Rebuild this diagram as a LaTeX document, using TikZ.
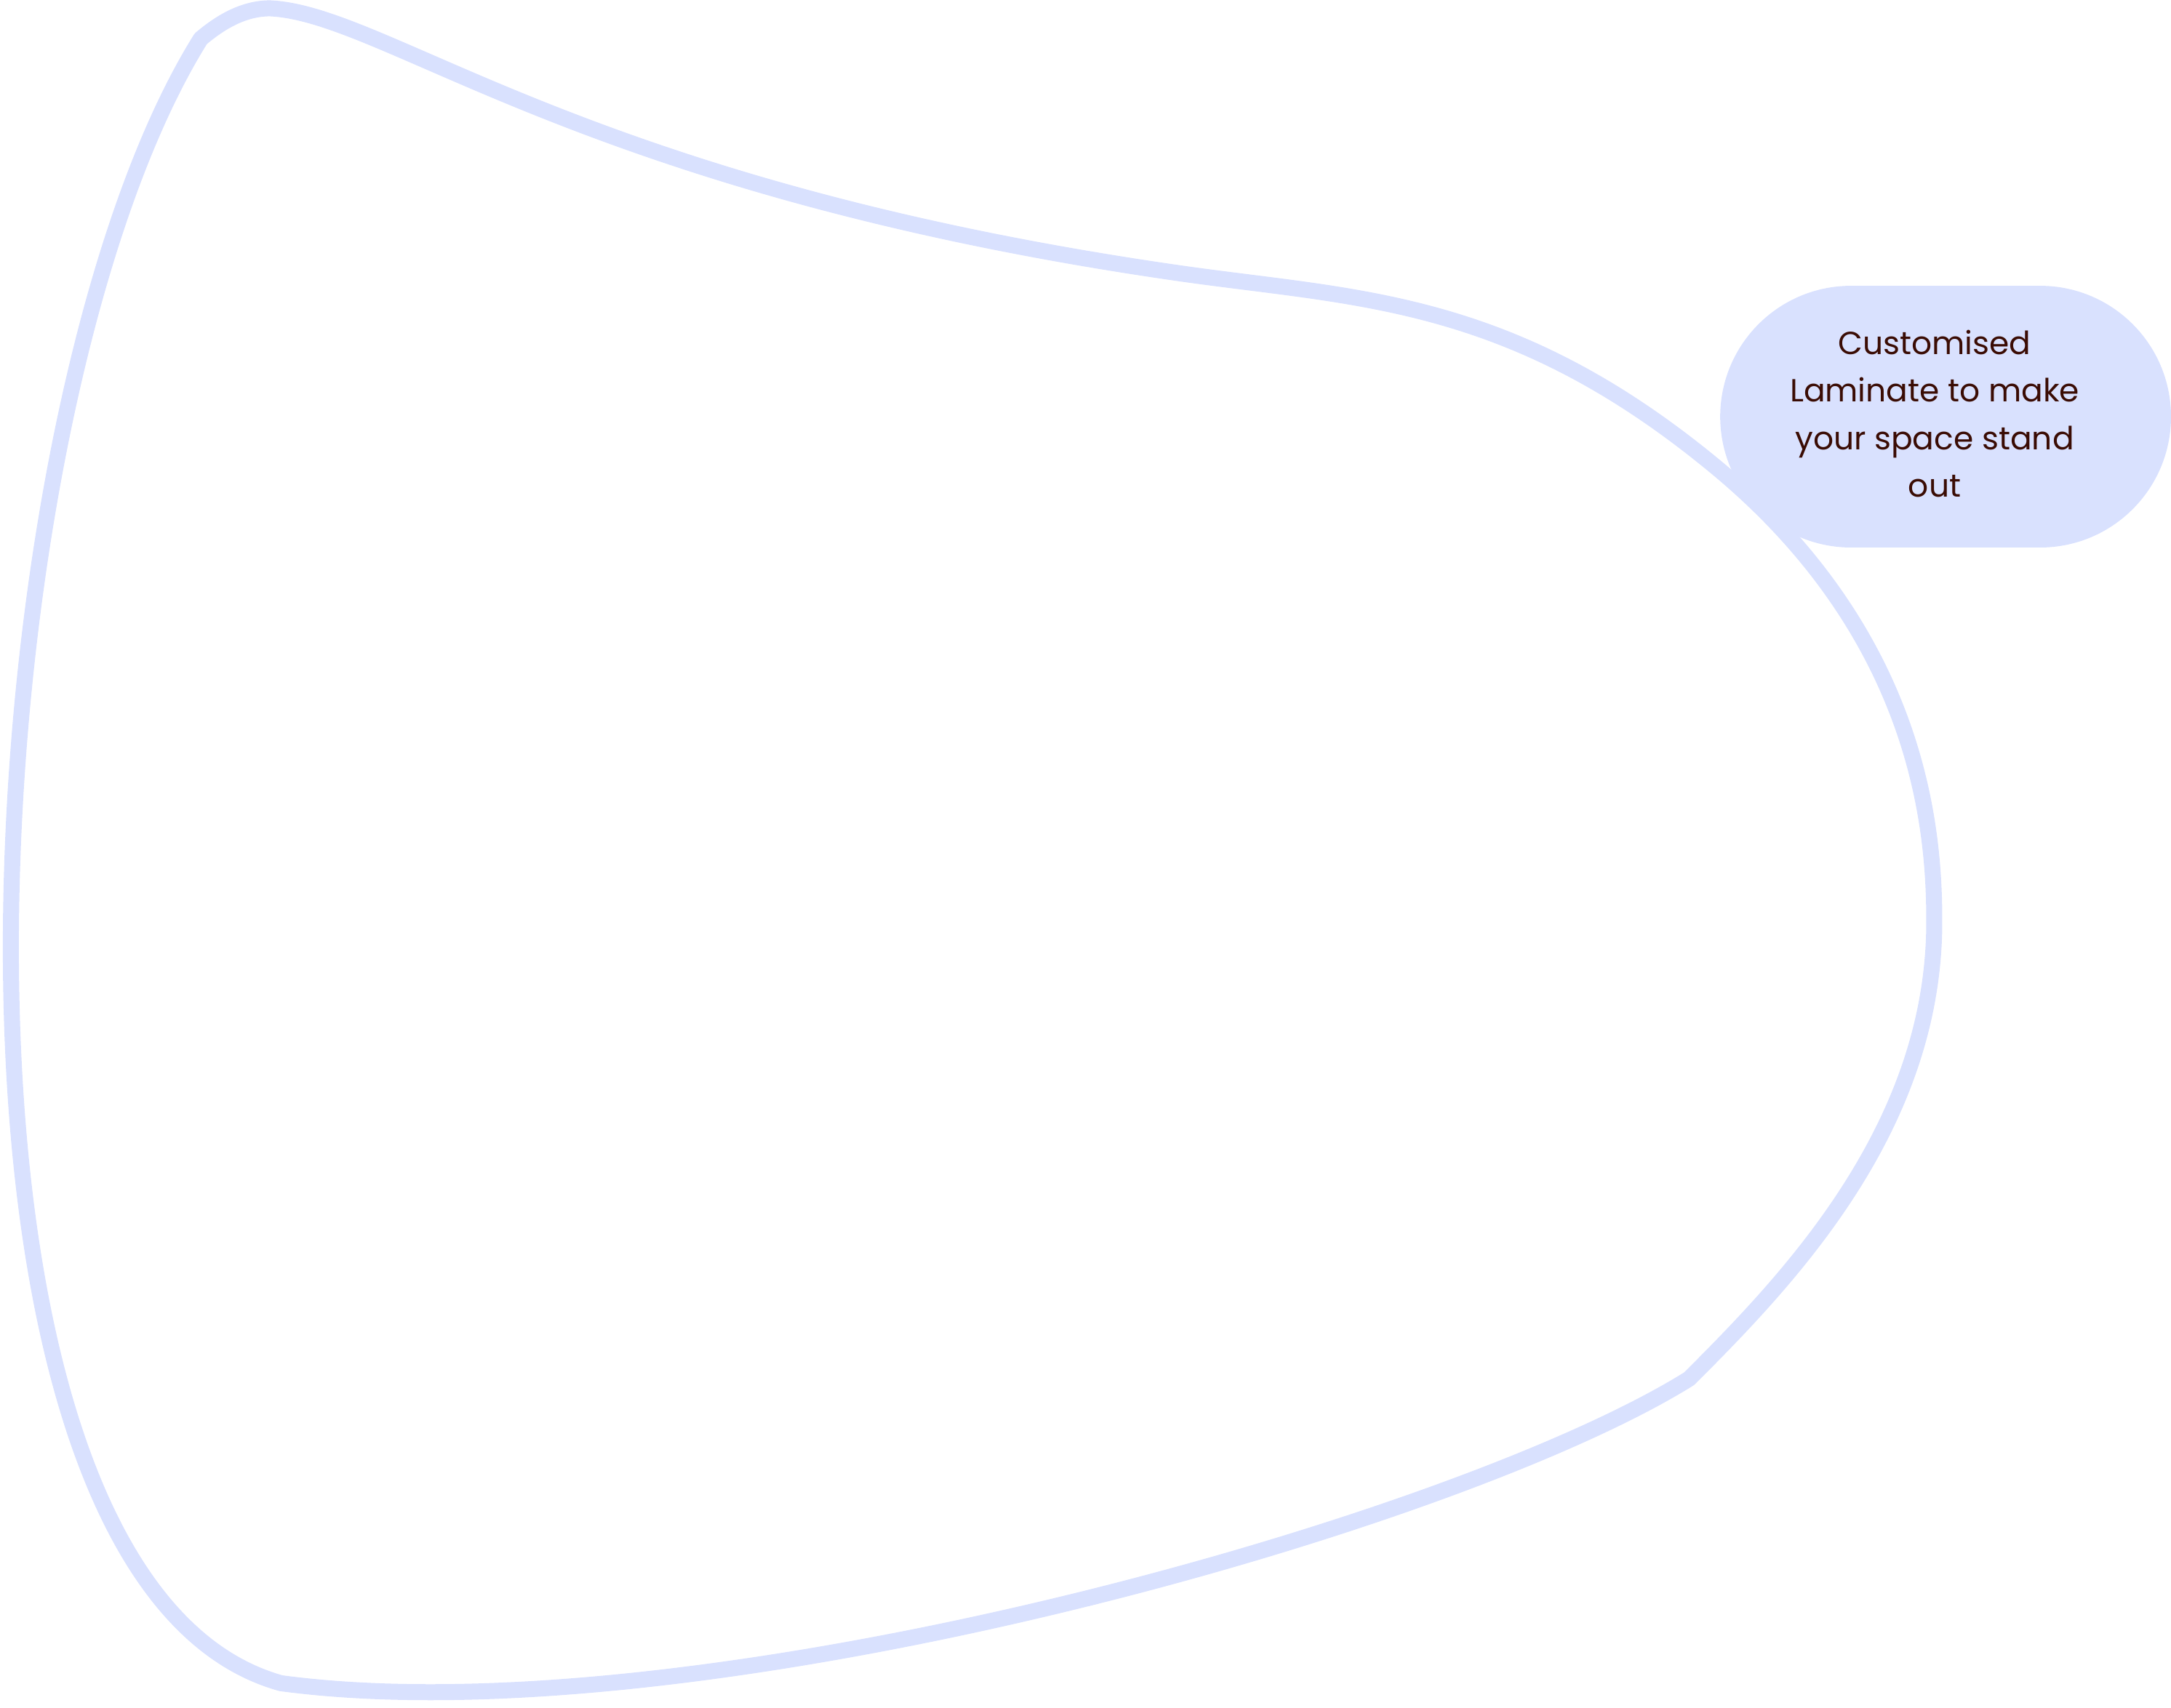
\documentclass[tikz,border=0pt]{standalone}
\usepackage{fontspec}
\setmainfont{Poppins}
\usetikzlibrary{shapes.misc}
\definecolor{shapeblue}{HTML}{D9E1FE}
\definecolor{textbrown}{HTML}{3A0C04}
\tikzset{
  outline/.style={draw=shapeblue, line width=0.22cm, line join=round, line cap=round},
  bubble/.style={rounded rectangle, fill=shapeblue, draw=none, minimum width=6.2cm, minimum height=3.6cm, inner sep=0pt},
  bubbletext/.style={align=center, text=textbrown, inner sep=0pt, font=\fontsize{12.5pt}{18.6pt}\selectfont}
}
\begin{document}
\begin{tikzpicture}[x=0.019037cm, y=-0.019037cm]
\useasboundingbox (0,0) rectangle (1568,1233.4);
\coordinate (A) at (145,28);
\coordinate (P) at (195,6);
\coordinate (D) at (849,197);
\coordinate (M) at (1240,338);
\coordinate (R) at (1397,666);
\coordinate (B) at (1220,996);
\coordinate (C) at (203,1216);
\draw[outline] (A) .. controls (158,17) and (175,6) .. (P)
  .. controls (280,10) and (420,135) .. (D)
  .. controls (979,215.9) and (1090,213.5) .. (M)
  .. controls (1390,462.5) and (1397,606) .. (R)
  .. controls (1397,816) and (1290,926) .. (B)
  .. controls (1050,1102) and (503,1256) .. (C)
  .. controls (-70,1140) and (-25,300) .. cycle;
\node[bubble] (bubble) at (1405.2,301) {};
\node[bubbletext] (label) at (1397.3,298.9) {Customised\\Laminate to make\\your space stand\\out};
\end{tikzpicture}
\end{document}
